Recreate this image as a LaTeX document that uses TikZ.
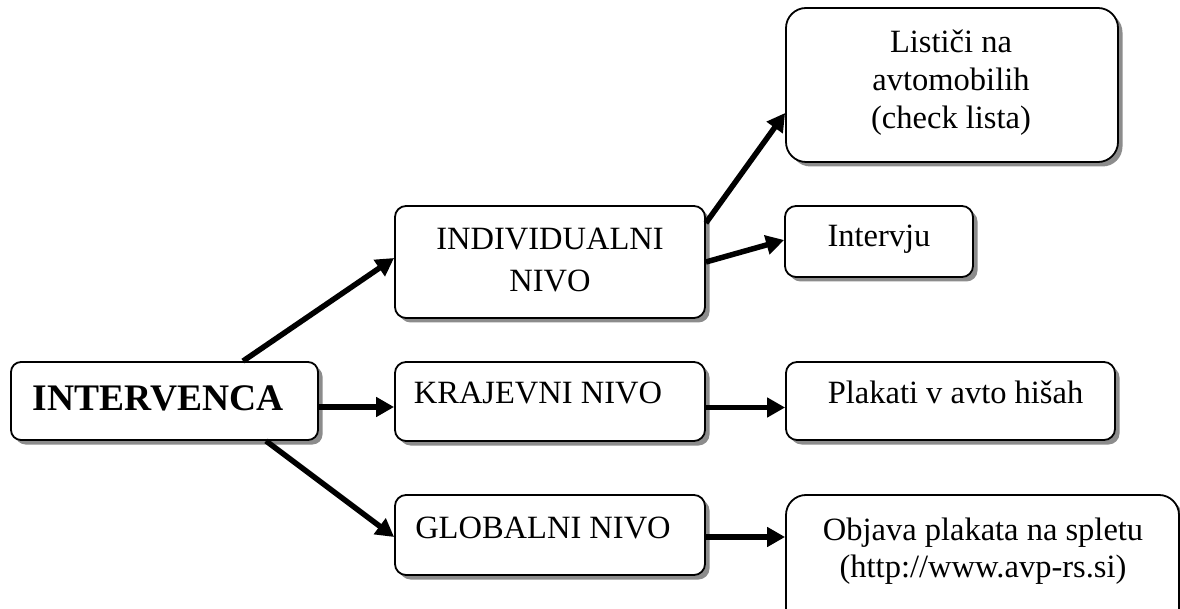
\documentclass[tikz,border=0pt]{standalone}
\usepackage{fontspec}
\setmainfont{Liberation Serif}
\usetikzlibrary{shadows,arrows.meta,calc}
\tikzset{
  box/.style={draw=black, line width=1.8pt, fill=white, rounded corners=11pt, inner sep=0pt,
    drop shadow={shadow xshift=4.5pt, shadow yshift=-4.5pt, fill=black!45, opacity=1}},
  bigbox/.style={box, rounded corners=20pt},
  lbl/.style={anchor=base, inner sep=0pt, align=center, font=\fontsize{32.5}{38}\selectfont},
  conn/.style={line width=5.5pt, -{Triangle[length=18pt,width=19pt]}}
}
\begin{document}
\begin{tikzpicture}[x=1pt,y=-1pt]
\useasboundingbox (0,0) rectangle (1180,609);
% boxes
\node[box, rounded corners=10pt, minimum width=307pt, minimum height=78pt] (intervenca) at (164.5,401) {};
\node[box, minimum width=310pt, minimum height=112pt] (individual) at (550,262) {};
\node[bigbox, minimum width=332pt, minimum height=154pt] (listici) at (952,85) {};
\node[box, minimum width=188pt, minimum height=71pt] (intervju) at (879,241.5) {};
\node[box, minimum width=310pt, minimum height=79pt] (krajevni) at (550,401.5) {};
\node[box, minimum width=329pt, minimum height=78pt] (plakati) at (950.5,401) {};
\node[box, minimum width=310pt, minimum height=80pt] (globalni) at (550,535) {};
\node[bigbox, minimum width=393pt, minimum height=160pt] (objava) at (982.5,575) {};
% texts (base anchor = baseline of the last line)
\node[lbl, font=\fontsize{37.5}{44}\selectfont\bfseries] (tintervenca) at (158,410) {INTERVENCA};
\node[lbl, font=\fontsize{32.5}{42}\selectfont] (tindividual) at (550,292) {INDIVIDUALNI\\NIVO};
\node[lbl] (tlistici) at (951,129) {Lističi na\\avtomobilih\\(check lista)};
\node[lbl] (tintervju) at (879,247) {Intervju};
\node[lbl] (tkrajevni) at (538,403) {KRAJEVNI NIVO};
\node[lbl] (tplakati) at (955.5,403) {Plakati v avto hišah};
\node[lbl] (tglobalni) at (543,538) {GLOBALNI NIVO};
\node[lbl, font=\fontsize{32.5}{37}\selectfont] (tobjava) at (983,577) {Objava plakata na spletu\\(http://www.avp-rs.si)};
% connectors
\draw[conn] ([xshift=78.5pt]intervenca.north) -- ([yshift=4pt]individual.west);
\draw[conn] ([yshift=-6pt]intervenca.east) -- ([yshift=-6pt]intervenca.east -| krajevni.west);
\draw[conn] ([xshift=101.5pt]intervenca.south) -- ([yshift=-2pt]globalni.west);
\draw[conn] ([yshift=39pt]individual.east) -- ([yshift=-28pt]listici.west);
\draw[conn] (individual.east) -- ([yshift=1.5pt]intervju.west);
\draw[conn] ([yshift=-6pt]krajevni.east) -- ([yshift=-6pt]krajevni.east -| plakati.west);
\draw[conn] ([yshift=-2pt]globalni.east) -- ([yshift=-2pt]globalni.east -| objava.west);
\end{tikzpicture}
\end{document}
